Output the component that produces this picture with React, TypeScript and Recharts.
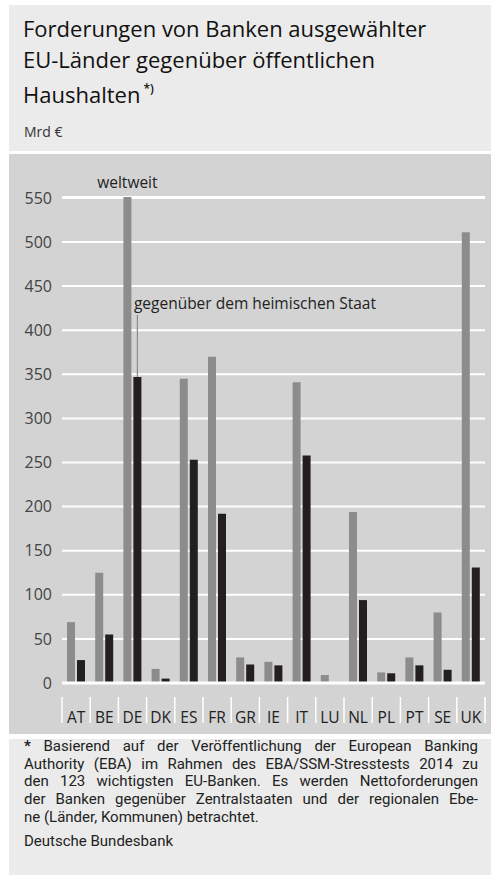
import React from 'react';
import { BarChart, Bar, XAxis, YAxis, CartesianGrid, ReferenceLine, LabelList } from 'recharts';

const categories = ['AT', 'BE', 'DE', 'DK', 'ES', 'FR', 'GR', 'IE', 'IT', 'LU', 'NL', 'PL', 'PT', 'SE', 'UK'];
const weltweit = [69, 125, 551, 16, 345, 370, 29, 24, 341, 9, 194, 12, 29, 80, 511];
const heimisch = [26, 55, 347, 5, 253, 192, 21, 20, 258, 0, 94, 11, 20, 15, 131];
const yTicks = [0, 50, 100, 150, 200, 250, 300, 350, 400, 450, 500, 550];

const titleLines = [
  'Forderungen von Banken ausgewählter',
  'EU-Länder gegenüber öffentlichen',
  'Haushalten',
];
const unitLabel = 'Mrd €';
const labelWorld = 'weltweit';
const labelHome = 'gegenüber dem heimischen Staat';
const footLines = [
  'Basierend auf der Veröffentlichung der European Banking',
  'Authority (EBA) im Rahmen des EBA/SSM-Stresstests 2014 zu',
  'den 123 wichtigsten EU-Banken. Es werden Nettoforderungen',
  'der Banken gegenüber Zentralstaaten und der regionalen Ebe-',
  'ne (Länder, Kommunen) betrachtet.',
];
const source = 'Deutsche Bundesbank';

const data = categories.map((c, i) => ({ name: c, welt: weltweit[i], heim: heimisch[i] }));

const FONT = '"Open Sans", "Noto Sans", sans-serif';
const FOOT_FONT = 'Roboto, "Open Sans", sans-serif';

const XTick = (props: any) => {
  const { x, y, payload, index } = props;
  const half = payload && payload.offset ? payload.offset : 14.1;
  const isLast = index === categories.length - 1;
  return (
    <g>
      <line x1={x - half} x2={x - half} y1={y + 14} y2={y + 40} stroke="#ffffff" strokeWidth={1.5} />
      {isLast && (
        <line x1={x + half} x2={x + half} y1={y + 14} y2={y + 40} stroke="#ffffff" strokeWidth={1.5} />
      )}
      <text x={x} y={y + 34} textAnchor="middle" dominantBaseline="central" fontSize={15.5} fill="#222">
        {payload.value}
      </text>
    </g>
  );
};

const WorldLabel = (props: any) => {
  const { x, y, width, index } = props;
  if (index !== 2) return null;
  return (
    <text x={x + width / 2} y={y - 15} textAnchor="middle" dominantBaseline="central" fontSize={15.5} fill="#222">
      {labelWorld}
    </text>
  );
};

const HomeLabel = (props: any) => {
  const { x, y, width, index } = props;
  if (index !== 2) return null;
  const cx = x + width / 2;
  return (
    <g>
      <line x1={cx} x2={cx} y1={y} y2={y - 62} stroke="#8c8c8c" strokeWidth={1.2} />
      <text x={cx - 3.5} y={y - 74} textAnchor="start" dominantBaseline="central" fontSize={15.5} fill="#222">
        {labelHome}
      </text>
    </g>
  );
};

export default function App() {
  return (
    <div style={{ position: 'absolute', left: 0, top: 0, width: 491, height: 875, background: '#ffffff', fontFamily: FONT, overflow: 'hidden' }}>
      <div style={{ position: 'absolute', left: 9, top: 5, width: 482, height: 146, background: '#ebebeb' }} />
      <div style={{ position: 'absolute', left: 23, top: 13, fontSize: 22, lineHeight: '31px', color: '#111', whiteSpace: 'nowrap' }}>
        {titleLines.map((l, i) => (
          <div key={i}>
            {l}
            {i === titleLines.length - 1 && (
              <sup style={{ fontSize: 12, fontWeight: 600, marginLeft: 3, position: 'relative', top: -2 }}>*)</sup>
            )}
          </div>
        ))}
      </div>
      <div style={{ position: 'absolute', left: 24, top: 122, fontSize: 14, lineHeight: '20px', color: '#333' }}>{unitLabel}</div>

      <div style={{ position: 'absolute', left: 9, top: 154, width: 482, height: 580, background: '#d3d3d3' }}>
        <BarChart
          width={482}
          height={580}
          data={data}
          margin={{ top: 43, right: 6, left: 0, bottom: 0 }}
          barSize={8}
          barGap={2}
        >
          <CartesianGrid vertical={false} stroke="#ffffff" strokeWidth={2} />
          <YAxis
            domain={[0, 550]}
            ticks={yTicks}
            interval={0}
            axisLine={false}
            tickLine={false}
            tickSize={0}
            tickMargin={10}
            width={53}
            tick={{ fontSize: 16, fill: '#444' }}
          />
          <XAxis
            dataKey="name"
            axisLine={false}
            tickLine={false}
            tickSize={0}
            tickMargin={0}
            height={51}
            interval={0}
            tick={<XTick />}
          />
          <ReferenceLine y={0} stroke="#ffffff" strokeWidth={3} />
          <Bar dataKey="welt" fill="#8c8c8c" isAnimationActive={false}>
            <LabelList dataKey="welt" content={<WorldLabel />} />
          </Bar>
          <Bar dataKey="heim" fill="#231f20" isAnimationActive={false}>
            <LabelList dataKey="heim" content={<HomeLabel />} />
          </Bar>
        </BarChart>
      </div>

      <div style={{ position: 'absolute', left: 9, top: 739, width: 482, height: 136, background: '#ebebeb' }} />
      <div style={{ position: 'absolute', left: 24, top: 738, width: 454, fontFamily: FOOT_FONT, fontSize: 15, lineHeight: '17.7px', color: '#222' }}>
        {footLines.map((l, i) => (
          <div
            key={i}
            style={{
              whiteSpace: 'nowrap',
              textAlign: 'justify',
              textAlignLast: i === footLines.length - 1 ? 'left' : 'justify',
            }}
          >
            {i === 0 && <b>* </b>}
            {l}
          </div>
        ))}
        <div style={{ marginTop: 6 }}>{source}</div>
      </div>
    </div>
  );
}
